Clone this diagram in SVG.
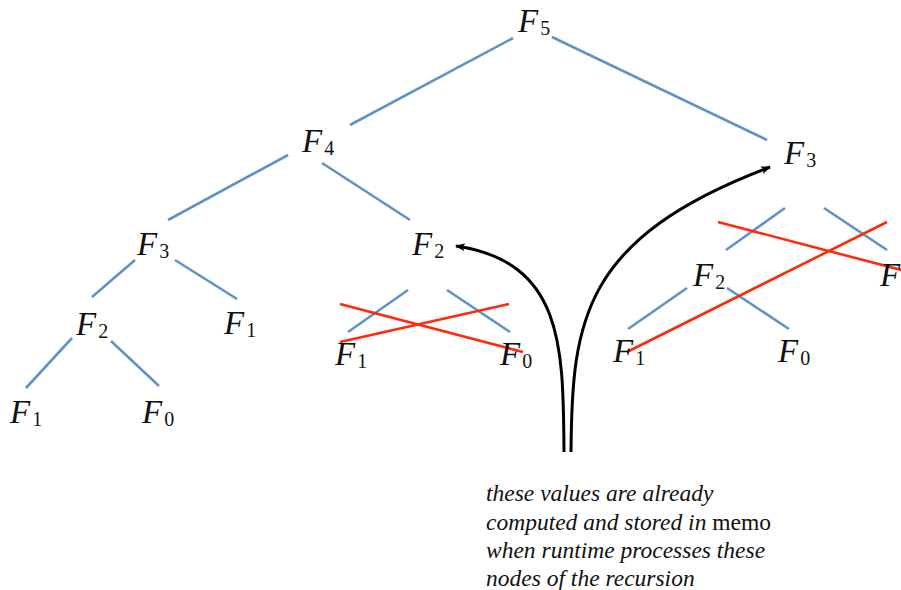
<svg xmlns="http://www.w3.org/2000/svg" width="901" height="590" viewBox="0 0 901 590">
<style>
.F{font-family:"Liberation Serif","DejaVu Serif",serif;font-style:italic;font-size:33px;fill:#111}
.s{font-style:normal;font-size:20px}
.blue{stroke:#5f93c8;stroke-width:2.6;fill:none;stroke-linecap:butt}
.red{stroke:#ff2a0d;stroke-width:2.6;fill:none}
.arc{stroke:#000;stroke-width:3;fill:none}
.note{font-family:"Liberation Serif","DejaVu Serif",serif;font-style:italic;font-size:23.5px;fill:#111}
</style>
<defs>
<marker id="ah" markerWidth="10" markerHeight="8" refX="9" refY="4" orient="auto" markerUnits="userSpaceOnUse">
<path d="M0,0 L10,4 L0,8 L2.5,4 Z" fill="#000"/>
</marker>
</defs>
<rect width="901" height="590" fill="#fff"/>
<g id="connectors">
<line class="blue" x1="513" y1="38" x2="350" y2="125"/>
<line class="blue" x1="552" y1="37" x2="767" y2="140"/>
<line class="blue" x1="288" y1="155" x2="168" y2="220"/>
<line class="blue" x1="322" y1="163" x2="410" y2="220"/>
<line class="blue" x1="135" y1="260" x2="92" y2="297"/>
<line class="blue" x1="175" y1="260" x2="237" y2="299"/>
<line class="blue" x1="72" y1="338" x2="26" y2="388"/>
<line class="blue" x1="111" y1="341" x2="159" y2="386"/>
<line class="blue" x1="408" y1="290" x2="348" y2="332"/>
<line class="blue" x1="447" y1="290" x2="510" y2="332"/>
<line class="red" x1="340" y1="304" x2="523" y2="352"/>
<line class="red" x1="340" y1="342" x2="509" y2="304"/>
<line class="blue" x1="785" y1="208" x2="726" y2="250"/>
<line class="blue" x1="824" y1="208" x2="887" y2="250"/>
<line class="blue" x1="687" y1="288" x2="628" y2="329"/>
<line class="blue" x1="727" y1="288" x2="789" y2="329"/>
<line class="red" x1="718" y1="222" x2="905" y2="271"/>
<line class="red" x1="627" y1="352" x2="887" y2="222"/>
<path class="arc" d="M564 452 C563 350 565 262 456 246" marker-end="url(#ah)"/>
<path class="arc" d="M571 452 C572 320 582 238 770 167" marker-end="url(#ah)"/>
</g>
<g id="F5"><text class="F" x="518" y="32">F<tspan class="s" dx="2" dy="3">5</tspan></text></g>
<g id="F4"><text class="F" x="302" y="152">F<tspan class="s" dx="2" dy="3">4</tspan></text></g>
<g id="F3r"><text class="F" x="784" y="164">F<tspan class="s" dx="2" dy="3">3</tspan></text></g>
<g id="F3l"><text class="F" x="137" y="255">F<tspan class="s" dx="2" dy="3">3</tspan></text></g>
<g id="F2m"><text class="F" x="412" y="255">F<tspan class="s" dx="2" dy="3">2</tspan></text></g>
<g id="F2l"><text class="F" x="76" y="335">F<tspan class="s" dx="2" dy="3">2</tspan></text></g>
<g id="F1a"><text class="F" x="224" y="334">F<tspan class="s" dx="2" dy="3">1</tspan></text></g>
<g id="F1b"><text class="F" x="10" y="423">F<tspan class="s" dx="2" dy="3">1</tspan></text></g>
<g id="F0b"><text class="F" x="142" y="423">F<tspan class="s" dx="2" dy="3">0</tspan></text></g>
<g id="F1m"><text class="F" x="335" y="365">F<tspan class="s" dx="2" dy="3">1</tspan></text></g>
<g id="F0m"><text class="F" x="500" y="365">F<tspan class="s" dx="2" dy="3">0</tspan></text></g>
<g id="F2r"><text class="F" x="693" y="286">F<tspan class="s" dx="2" dy="3">2</tspan></text></g>
<g id="F1r"><text class="F" x="613" y="362">F<tspan class="s" dx="2" dy="3">1</tspan></text></g>
<g id="F0r"><text class="F" x="778" y="362">F<tspan class="s" dx="2" dy="3">0</tspan></text></g>
<g id="F1x"><text class="F" x="880" y="286">F<tspan class="s" dx="2" dy="3">1</tspan></text></g>
<g id="note">
<text class="note" x="486" y="501">these values are already</text>
<text class="note" x="486" y="530">computed and stored in <tspan font-style="normal">memo</tspan></text>
<text class="note" x="486" y="558">when runtime processes these</text>
<text class="note" x="486" y="586">nodes of the recursion</text>
</g>
</svg>
